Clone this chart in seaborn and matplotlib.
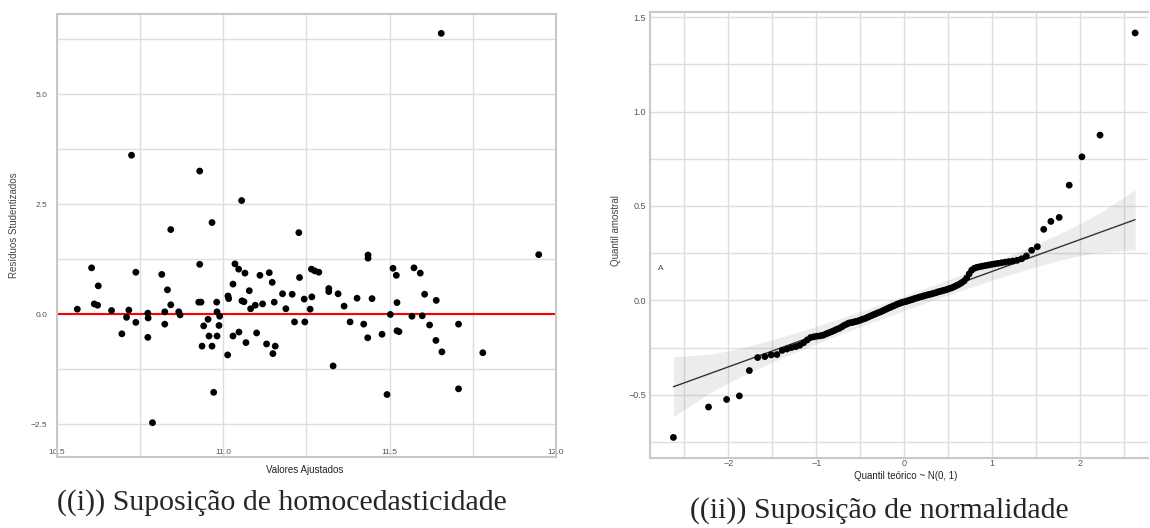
import statistics
import matplotlib
matplotlib.use("Agg")
import matplotlib.pyplot as plt
import seaborn as sns
import numpy as np
import pandas as pd

# (i) studentized residuals vs fitted values
fitted = [11.655, 10.724, 10.929, 11.055, 10.842, 10.966, 11.227, 11.948, 11.435, 11.435,
          10.604, 10.624, 10.561, 10.612, 10.622, 10.664, 10.695, 10.709, 10.716, 10.737,
          10.737, 10.773, 10.774, 10.773, 10.815, 10.832, 10.824, 10.824, 10.842, 10.866,
          10.870, 10.787, 10.929, 10.926, 10.933, 10.941, 10.936, 10.954, 10.957, 10.966,
          10.971, 10.980, 10.981, 10.989, 10.987, 10.981, 11.013, 11.014, 11.016, 11.029,
          11.035, 11.046, 11.065, 11.056, 11.062, 11.029, 11.047, 11.068, 11.078, 11.082,
          11.096, 11.118, 11.100, 11.110, 11.138, 11.147, 11.153, 11.178, 11.188, 11.207,
          11.214, 11.130, 11.156, 11.149, 11.229, 11.243, 11.245, 11.266, 11.261, 11.265,
          11.275, 11.287, 11.317, 11.317, 11.345, 11.363, 11.381, 11.330, 11.402, 11.422,
          11.434, 11.447, 11.477, 11.492, 11.502, 11.510, 11.520, 11.522, 11.522, 11.528,
          11.567, 11.573, 11.592, 11.605, 11.598, 11.620, 11.640, 11.639, 11.657, 11.707,
          11.707, 11.780]
stud_resid = [6.38, 3.61, 3.25, 2.58, 1.92, 2.08, 1.85, 1.35, 1.34, 1.27,
              1.05, 0.64, 0.11, 0.23, 0.20, 0.08, -0.45, -0.075, 0.09, -0.19,
              0.95, 0.02, -0.09, -0.53, 0.90, 0.55, -0.23, 0.05, 0.21, 0.05,
              -0.02, -2.47, 1.13, 0.27, 0.27, -0.27, -0.73, -0.12, -0.50, -0.73,
              -1.78, 0.27, 0.05, -0.05, -0.26, -0.50, -0.93, 0.41, 0.35, 0.68,
              1.14, 1.02, 0.93, 0.30, 0.28, -0.50, -0.41, -0.65, 0.53, 0.12,
              0.20, 0.23, -0.43, 0.88, 0.94, 0.72, 0.27, 0.46, 0.12, 0.45,
              -0.18, -0.68, -0.73, -0.90, 0.83, 0.34, -0.18, 0.39, 0.11, 1.02,
              0.98, 0.95, 0.58, 0.51, 0.46, 0.18, -0.18, -1.18, 0.36, -0.23,
              -0.54, 0.35, -0.46, -1.83, -0.01, 1.04, 0.88, 0.26, -0.38, -0.40,
              -0.05, 1.05, 0.93, 0.45, -0.04, -0.25, 0.31, -0.60, -0.86, -0.23,
              -1.70, -0.88]

# (ii) sorted sample quantiles for the normal Q-Q plot
sample_q = [-0.726, -0.565, -0.525, -0.506, -0.372, -0.303, -0.298, -0.289, -0.287, -0.265,
            -0.258, -0.250, -0.245, -0.238, -0.225, -0.210, -0.197, -0.193, -0.190, -0.188,
            -0.185, -0.178, -0.172, -0.166, -0.160, -0.153, -0.148, -0.140, -0.132, -0.126,
            -0.120, -0.118, -0.115, -0.112, -0.109, -0.105, -0.100, -0.097, -0.092, -0.087,
            -0.082, -0.077, -0.073, -0.068, -0.064, -0.060, -0.055, -0.050, -0.045, -0.040,
            -0.036, -0.031, -0.027, -0.022, -0.018, -0.014, -0.011, -0.008,
            -0.006, -0.002, 0.001, 0.004, 0.008, 0.011, 0.014, 0.017, 0.020, 0.023,
            0.026, 0.029, 0.031, 0.034, 0.037, 0.040, 0.044, 0.047, 0.050, 0.053,
            0.056, 0.060, 0.064, 0.068, 0.074, 0.080, 0.086, 0.094, 0.103, 0.118,
            0.140, 0.160, 0.170, 0.175, 0.178, 0.181, 0.184, 0.187, 0.190, 0.193,
            0.196, 0.199, 0.202, 0.205, 0.208, 0.212, 0.220, 0.235, 0.265, 0.284,
            0.376, 0.418, 0.439, 0.610, 0.760, 0.875, 1.416]

# theoretical quantiles, quartile reference line and pointwise 95% band
nd = statistics.NormalDist()
n = len(sample_q)
probs = np.array([(i + 0.5) / n for i in range(n)])
theo_q = np.array([nd.inv_cdf(p) for p in probs])
y25, y75 = np.percentile(sample_q, [25, 75])
slope = (y75 - y25) / (nd.inv_cdf(0.75) - nd.inv_cdf(0.25))
icpt = y25 - slope * nd.inv_cdf(0.25)
line_y = icpt + slope * theo_q
dens = np.array([nd.pdf(z) for z in theo_q])
se = slope * np.sqrt(probs * (1 - probs) / n) / dens

df1 = pd.DataFrame({"fitted": fitted, "resid": stud_resid})
df2 = pd.DataFrame({"theo": theo_q, "sample": sample_q, "line": line_y,
                    "lo": line_y - 1.96 * se, "hi": line_y + 1.96 * se})

sns.set_style("whitegrid")
plt.rcParams["font.family"] = ["Liberation Sans", "DejaVu Sans"]

fig = plt.figure(figsize=(11.5, 5.28), dpi=100)
ax1 = fig.add_axes([57 / 1150, 71 / 528, 499 / 1150, 443 / 528])
ax2 = fig.add_axes([650 / 1150, 70 / 528, 498 / 1150, 446 / 528])

grid_col = "#dedede"
spine_col = "#c8c8c8"
tick_col = "#555555"

# left panel
sns.scatterplot(data=df1, x="fitted", y="resid", ax=ax1, color="black",
                s=24, edgecolor="none", zorder=3)
ax1.axhline(0, color="red", lw=1.5, zorder=2)
ax1.set_xlim(10.5, 12.0)
ax1.set_ylim(-3.25, 6.82)
ax1.set_xticks([10.5, 11.0, 11.5, 12.0])
ax1.set_xticks([10.75, 11.25, 11.75], minor=True)
ax1.set_yticks([-2.5, 0.0, 2.5, 5.0])
ax1.set_yticks([-1.25, 1.25, 3.75, 6.25], minor=True)
ax1.tick_params(axis="both", which="both", length=0, labelsize=6, colors=tick_col)
ax1.tick_params(axis="x", pad=-6)
ax1.tick_params(axis="y", pad=7)
ax1.grid(which="both", color=grid_col, lw=1)
ax1.set_xlabel("Valores Ajustados", fontsize=7, color="#222222")
ax1.set_ylabel("Resíduos Studentizados", fontsize=7, color="#444444")
ax1.xaxis.set_label_coords(0.497, -0.018)
ax1.yaxis.set_label_coords(-0.076, 0.524)
for side in ["left", "right", "top", "bottom"]:
    ax1.spines[side].set_color(spine_col)
    ax1.spines[side].set_linewidth(1.5)

# right panel
ax2.fill_between(df2["theo"], df2["lo"], df2["hi"], color="#8a8a8a", alpha=0.16,
                 linewidth=0, zorder=2)
sns.lineplot(data=df2, x="theo", y="line", ax=ax2, color="#333333", lw=1, zorder=2)
sns.scatterplot(data=df2, x="theo", y="sample", ax=ax2, color="black",
                s=24, edgecolor="none", zorder=3)
ax2.set_xlim(-2.89, 2.77)
ax2.set_ylim(-0.835, 1.527)
ax2.set_xticks([-2, -1, 0, 1, 2])
ax2.set_xticks([-2.5, -1.5, -0.5, 0.5, 1.5, 2.5], minor=True)
ax2.set_yticks([-0.5, 0.0, 0.5, 1.0, 1.5])
ax2.set_yticks([-0.75, -0.25, 0.25, 0.75, 1.25], minor=True)
ax2.tick_params(axis="both", which="both", length=0, labelsize=6.5, colors=tick_col)
ax2.tick_params(axis="x", pad=1)
ax2.tick_params(axis="y", pad=3)
ax2.grid(which="both", color=grid_col, lw=1)
ax2.set_xlabel("Quantil teórico ~ N(0, 1)", fontsize=7, color="#222222")
ax2.set_ylabel("Quantil amostral", fontsize=7, color="#444444")
ax2.xaxis.set_label_coords(0.514, -0.030)
ax2.yaxis.set_label_coords(-0.058, 0.509)
ax2.text(-2.80, 0.16, "A", fontsize=6, color="#444444")
for side in ["left", "top", "bottom"]:
    ax2.spines[side].set_color(spine_col)
    ax2.spines[side].set_linewidth(1.5)
ax2.spines["right"].set_visible(False)

# captions
serif = ["Liberation Serif", "DejaVu Serif"]
fig.text(0.245, 1 - 503 / 528, "((i)) Suposição de homocedasticidade", ha="center",
         va="center", fontsize=21.5, family=serif)
fig.text(0.765, 1 - 511 / 528, "((ii)) Suposição de normalidade", ha="center",
         va="center", fontsize=21.5, family=serif)

fig.savefig("out.png", dpi=100)
